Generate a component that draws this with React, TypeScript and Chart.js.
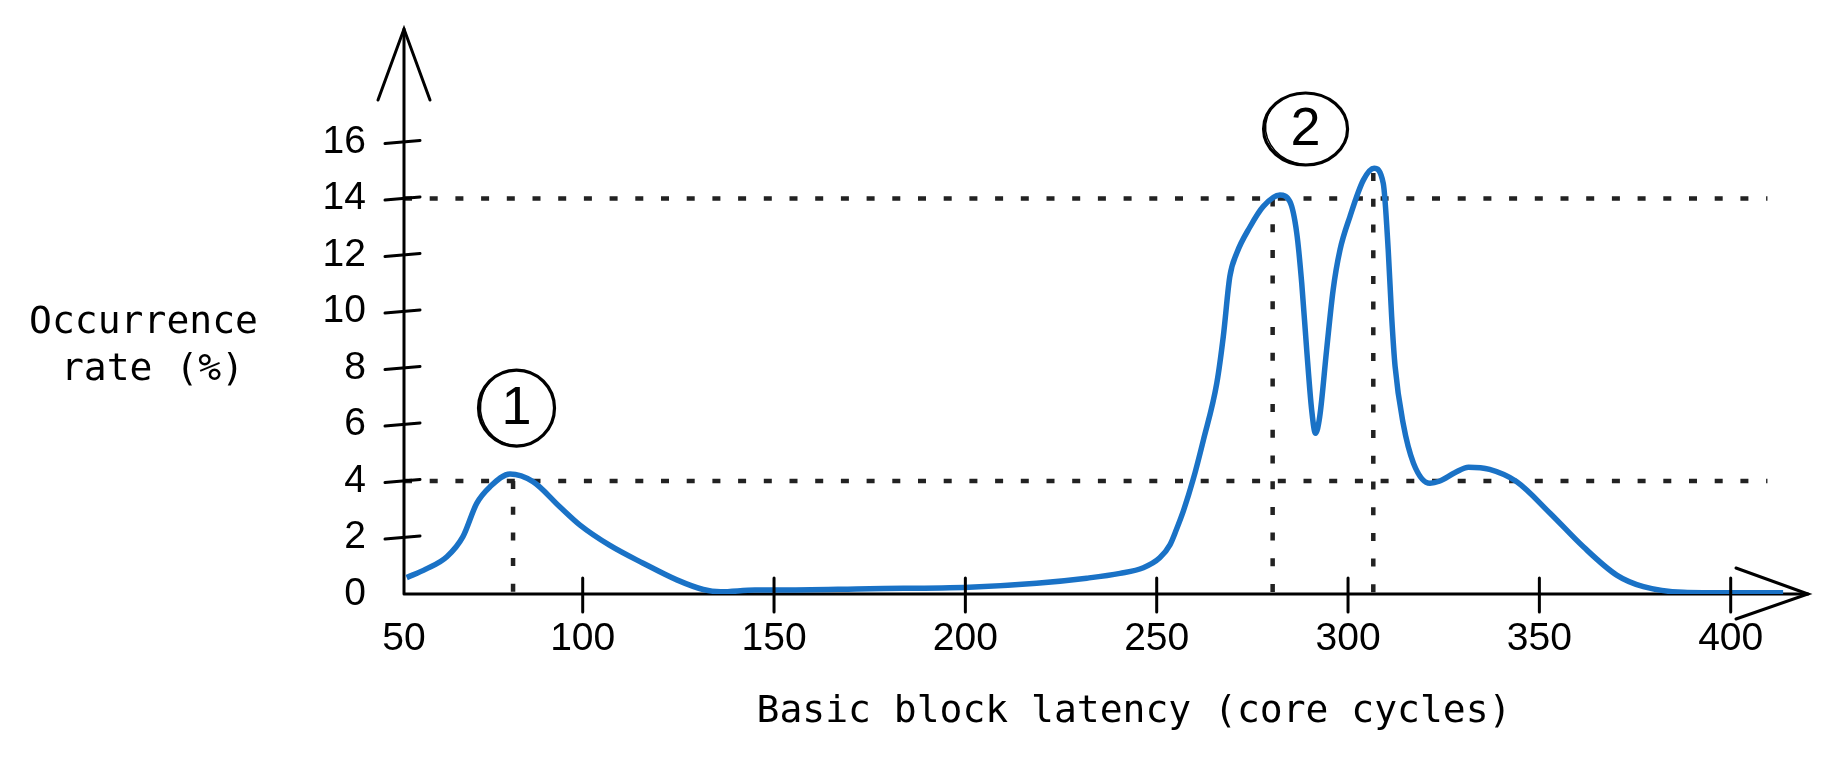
import React, { useEffect, useRef } from 'react';
import { Chart, registerables } from 'chart.js';

Chart.register(...registerables);

// ---- data ----
const latency = [
  54, 59, 64.5, 68.7, 72.3, 75.8, 81, 87, 94, 99.3, 107, 115.8, 124.6, 131.5, 136, 145, 151,
  175, 201, 218.6, 231.7, 240.4, 246.5, 250.8, 253.5, 255.2, 257, 259.5, 262.2, 265.7, 267.4,
  269.1, 270.9, 274.4, 277.8, 282.2, 284.8, 286.6, 287.9, 289.2, 290.5, 291.5, 292.6, 294.4,
  296.1, 297.9, 300.5, 304, 306.8, 309.2, 310.5, 311.4, 312.3, 314.4, 317.1, 321.4, 324,
  328, 331.5, 337, 344, 352.8, 361.5, 370.2, 377.2, 387.6, 400, 413.7,
];
const occurrence = [
  0.58, 0.88, 1.32, 2.03, 3.21, 3.8, 4.25, 3.98, 3.09, 2.44, 1.73, 1.09, 0.5, 0.16, 0.08, 0.14, 0.14,
  0.19, 0.24, 0.38, 0.56, 0.73, 0.93, 1.28, 1.75, 2.3, 2.95, 4.04, 5.45, 7.46, 9.11,
  11.23, 12.06, 13.0, 13.71, 14.12, 13.89, 12.77, 11.0, 8.64, 6.51, 5.69, 6.28, 8.64,
  10.76, 12.18, 13.36, 14.65, 15.07, 14.54, 12.18, 9.82, 8.05, 6.04, 4.63, 3.92, 4.0,
  4.3, 4.49, 4.41, 3.98, 2.86, 1.67, 0.67, 0.26, 0.06, 0.04, 0.04,
];

const xTickValues = [50, 100, 150, 200, 250, 300, 350, 400];
const xTickLabels = ['50', '100', '150', '200', '250', '300', '350', '400'];
const yTickValues = [0, 2, 4, 6, 8, 10, 12, 14, 16];
const yTickLabels = ['0', '2', '4', '6', '8', '10', '12', '14', '16'];

const refLevels = [4, 14];
const peakLatency = [81.8, 280.3, 306.6];
const peakTop = [4.0, 14.0, 14.9];

const markerLabels = ['1', '2'];
const markerX = [82.7, 288.9];
const markerY = [6.58, 16.46];

const yTitleLines = ['Occurrence', 'rate (%)'];
const xTitle = 'Basic block latency (core cycles)';

// ---- axis extents ----
const X_MIN = 53.3;
const X_MAX = 420.2;
const Y_MIN = 0;
const Y_MAX = 20;
const REF_END = 409.6;

const BLUE = '#1a72c6';
const MONO = '"DejaVu Sans Mono", "Liberation Mono", monospace';
const SANS = '"Liberation Sans", Arial, sans-serif';

const sketchPlugin = {
  id: 'sketch',
  beforeDatasetsDraw(chart: any) {
    const { ctx, chartArea, scales } = chart;
    const { left, right, top, bottom } = chartArea;
    const x = scales.x;
    const y = scales.y;
    ctx.save();
    // dotted guides
    ctx.strokeStyle = '#222';
    ctx.lineWidth = 4.5;
    ctx.setLineDash([8, 17.7]);
    refLevels.forEach((v) => {
      const py = y.getPixelForValue(v);
      ctx.beginPath();
      ctx.moveTo(left, py);
      ctx.lineTo(x.getPixelForValue(REF_END), py);
      ctx.stroke();
    });
    peakLatency.forEach((v, i) => {
      const px = x.getPixelForValue(v);
      ctx.beginPath();
      ctx.moveTo(px, y.getPixelForValue(peakTop[i]));
      ctx.lineTo(px, bottom);
      ctx.stroke();
    });
    ctx.setLineDash([]);
    // axes
    ctx.strokeStyle = '#000';
    ctx.lineWidth = 3;
    ctx.lineCap = 'round';
    ctx.beginPath();
    ctx.moveTo(left, bottom);
    ctx.lineTo(left, top);
    ctx.moveTo(left, bottom);
    ctx.lineTo(right, bottom);
    ctx.stroke();
    ctx.restore();
  },
  afterDatasetsDraw(chart: any) {
    const { ctx, chartArea, scales } = chart;
    const { left, right, top, bottom } = chartArea;
    const x = scales.x;
    const y = scales.y;
    ctx.save();
    ctx.strokeStyle = '#000';
    ctx.lineWidth = 3;
    ctx.lineCap = 'round';
    // y tick marks (slightly tilted, hand drawn look)
    yTickValues.forEach((v) => {
      if (v === 0) return;
      const py = y.getPixelForValue(v);
      ctx.beginPath();
      ctx.moveTo(left - 19, py + 1.5);
      ctx.lineTo(left + 16, py - 1.5);
      ctx.stroke();
    });
    // x tick marks
    xTickValues.forEach((v) => {
      if (v <= X_MIN) return;
      const px = x.getPixelForValue(v);
      ctx.beginPath();
      ctx.moveTo(px, bottom - 16);
      ctx.lineTo(px, bottom + 18);
      ctx.stroke();
    });
    // arrow heads
    ctx.beginPath();
    ctx.moveTo(left - 26, top + 71);
    ctx.lineTo(left, top);
    ctx.lineTo(left + 26, top + 71);
    ctx.stroke();
    ctx.beginPath();
    ctx.moveTo(right - 72, bottom - 26);
    ctx.lineTo(right, bottom);
    ctx.lineTo(right - 72, bottom + 25);
    ctx.stroke();
    // circled markers
    const radii = [
      [38, 38],
      [42, 36],
    ];
    markerLabels.forEach((lab, i) => {
      const cx = x.getPixelForValue(markerX[i]);
      const cy = y.getPixelForValue(markerY[i]);
      ctx.lineWidth = 3.2;
      ctx.beginPath();
      ctx.ellipse(cx, cy, radii[i][0], radii[i][1], 0, 0, Math.PI * 2);
      ctx.stroke();
      ctx.lineWidth = 1.5;
      ctx.beginPath();
      ctx.ellipse(cx + 1, cy - 1, radii[i][0] - 1, radii[i][1] + 0.5, 0.1, 0.2, Math.PI * 1.2);
      ctx.stroke();
      ctx.fillStyle = '#000';
      ctx.font = `54px ${SANS}`;
      ctx.textAlign = 'center';
      ctx.textBaseline = 'middle';
      ctx.fillText(lab, cx, cy + 1);
    });
    // axis titles
    ctx.fillStyle = '#000';
    ctx.font = `38px ${MONO}`;
    ctx.textAlign = 'center';
    ctx.textBaseline = 'alphabetic';
    ctx.fillText(yTitleLines[0], 143.5, 333);
    ctx.fillText(yTitleLines[1], 152.5, 380);
    ctx.fillText(xTitle, 1134, 722);
    ctx.restore();
  },
};

export default function App() {
  const canvasRef = useRef<HTMLCanvasElement | null>(null);

  useEffect(() => {
    document.body.style.margin = '0';
    const canvas = canvasRef.current;
    if (!canvas) return;
    const points = latency.map((v, i) => ({ x: v, y: occurrence[i] }));
    const chart = new Chart(canvas, {
      type: 'line',
      data: {
        datasets: [
          {
            label: 'Occurrence rate',
            data: points,
            borderColor: BLUE,
            borderWidth: 5.5,
            pointRadius: 0,
            fill: false,
            cubicInterpolationMode: 'monotone',
          },
        ],
      },
      options: {
        animation: false,
        responsive: false,
        maintainAspectRatio: false,
        devicePixelRatio: 1,
        layout: { padding: { left: 0, right: 29, top: 29, bottom: 0 }, autoPadding: false },
        plugins: { legend: { display: false }, tooltip: { enabled: false } },
        scales: {
          x: {
            type: 'linear',
            min: X_MIN,
            max: X_MAX,
            grid: { display: false, drawTicks: false },
            border: { display: false },
            afterBuildTicks: (s: any) => {
              s.ticks = xTickValues.map((v) => ({ value: Math.max(v, X_MIN) }));
            },
            afterFit: (s: any) => {
              s.height = 168;
              s.paddingLeft = 0;
              s.paddingRight = 0;
              s.paddingTop = 0;
              s.paddingBottom = 0;
            },
            ticks: {
              autoSkip: false,
              maxRotation: 0,
              padding: 22,
              color: '#000',
              font: { family: SANS, size: 39 },
              callback: (_v: any, i: number) => xTickLabels[i],
            },
          },
          y: {
            type: 'linear',
            min: Y_MIN,
            max: Y_MAX,
            grid: { display: false, drawTicks: false },
            border: { display: false },
            afterBuildTicks: (s: any) => {
              s.ticks = yTickValues.map((v) => ({ value: v }));
            },
            afterFit: (s: any) => {
              s.width = 404;
              s.paddingLeft = 0;
              s.paddingRight = 0;
              s.paddingTop = 0;
              s.paddingBottom = 0;
            },
            ticks: {
              autoSkip: false,
              padding: 38,
              color: '#000',
              font: { family: SANS, size: 39 },
              callback: (_v: any, i: number) => yTickLabels[i],
            },
          },
        },
      },
      plugins: [sketchPlugin],
    });
    return () => chart.destroy();
  }, []);

  return (
    <div style={{ width: 1837, height: 762 }}>
      <canvas ref={canvasRef} width={1837} height={762} style={{ display: 'block' }} />
    </div>
  );
}
